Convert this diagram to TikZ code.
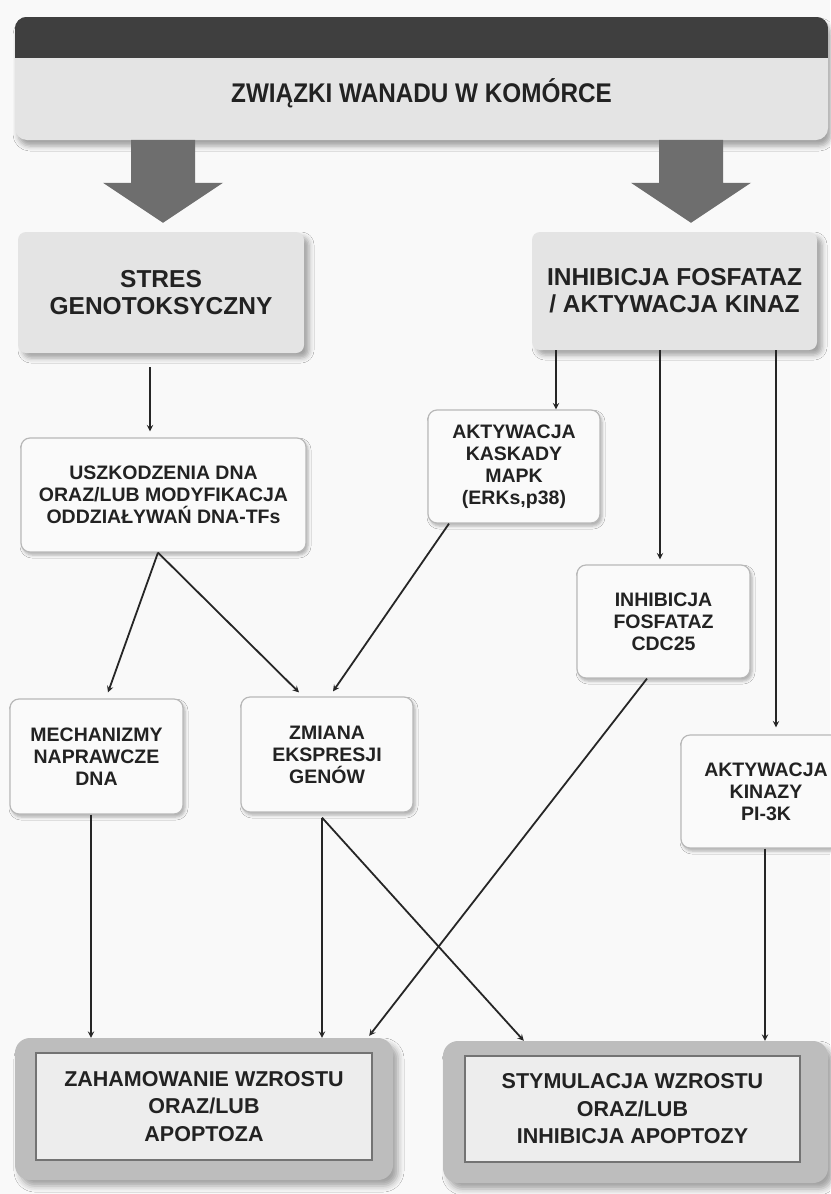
\documentclass[tikz,border=0pt]{standalone}
\usepackage{fontspec}
\setmainfont{Liberation Sans}
\newfontfamily\titlefont{Liberation Sans}[FakeStretch=0.9]
\usetikzlibrary{shapes, arrows, shadows.blur}

\definecolor{pagebg}{HTML}{F9F9F9}
\definecolor{bandgray}{HTML}{3F3F3F}
\definecolor{boxgray}{HTML}{E4E4E4}
\definecolor{arrowgray}{HTML}{6E6E6E}
\definecolor{textgray}{HTML}{222222}

\tikzstyle{header} = [rectangle, rounded corners=12pt,
inner sep=0pt,
text centered,
fill=boxgray,
text=textgray,
font=\titlefont\fontsize{27}{30}\selectfont\bfseries,
blur shadow={shadow xshift=3pt, shadow yshift=-6pt, shadow blur radius=5pt, shadow opacity=35}]
\tikzstyle{mainbox} = [rectangle, rounded corners=8pt,
inner sep=0pt,
align=center,
fill=boxgray,
text=textgray,
font=\fontsize{24.5}{27}\selectfont\bfseries,
blur shadow={shadow xshift=5pt, shadow yshift=-5pt, shadow blur radius=5pt, shadow opacity=35}]
\tikzstyle{stepbox} = [rectangle, rounded corners=9pt,
inner sep=0pt,
align=center,
draw=black!28, line width=1.2pt,
fill=white!98!black,
text=textgray,
font=\fontsize{19.5}{22}\selectfont\bfseries,
blur shadow={shadow xshift=2pt, shadow yshift=-3pt, shadow blur radius=3pt, shadow opacity=30}]
\tikzstyle{resultouter} = [rectangle, rounded corners=15pt,
inner sep=0pt,
fill=black!26,
blur shadow={shadow xshift=5pt, shadow yshift=-6pt, shadow blur radius=6pt, shadow opacity=35}]
\tikzstyle{resultinner} = [rectangle,
inner sep=0pt,
align=center,
draw=black!55, line width=1.5pt,
fill=black!7,
text=textgray,
font=\fontsize{21.5}{27.5}\selectfont\bfseries]
\tikzstyle{bigarrow} = [fill=arrowgray]
\tikzstyle{arrow} = [line width=1.8pt, draw=black!85, ->, >=stealth]

\begin{document}
\begin{tikzpicture}[x=1pt, y=-1pt]

\fill[pagebg] (0,0) rectangle (830,1194);
\useasboundingbox (0,0) rectangle (830,1194);

% header
\node (top) [header, minimum width=813pt, minimum height=123pt, text height=53pt] at (421.5,78.5) {ZWIĄZKI WANADU W KOMÓRCE};
\begin{scope}
\clip[rounded corners=12pt] (top.north west) rectangle (top.south east);
\fill[bandgray] (top.north west) rectangle ([yshift=-41pt]top.north east);
\end{scope}

% main branches
\node (stres) [mainbox, minimum width=286pt, minimum height=121pt] at (161,292.5) {STRES\\GENOTOKSYCZNY};
\node (inhib) [mainbox, minimum width=285pt, minimum height=118pt] at (674.5,291) {INHIBICJA FOSFATAZ\\/ AKTYWACJA KINAZ};

\fill[bigarrow, shift={(stres.north)}] (-30,-92) -- (34,-92) -- (34,-49) -- (62,-49) -- (2,-9) -- (-58,-49) -- (-30,-49) -- cycle;
\fill[bigarrow, shift={(inhib.north)}] (-15.5,-92) -- (48.5,-92) -- (48.5,-49) -- (76.5,-49) -- (16.5,-9) -- (-43.5,-49) -- (-15.5,-49) -- cycle;

% steps
\node (uszk) [stepbox, minimum width=285pt, minimum height=114pt] at (163.5,495) {USZKODZENIA DNA\\ORAZ/LUB MODYFIKACJA\\ODDZIAŁYWAŃ DNA-TFs};
\node (mapk) [stepbox, minimum width=172pt, minimum height=113pt] at (514,466.5) {AKTYWACJA\\KASKADY\\MAPK\\(ERKs,p38)};
\node (cdc) [stepbox, minimum width=173pt, minimum height=113pt] at (663.5,621.5) {INHIBICJA\\FOSFATAZ\\CDC25};
\node (mech) [stepbox, minimum width=173pt, minimum height=115pt] at (96.5,756.5) {MECHANIZMY\\NAPRAWCZE\\DNA};
\node (zmiana) [stepbox, minimum width=172pt, minimum height=115pt] at (327,754.5) {ZMIANA\\EKSPRESJI\\GENÓW};
\node (pi3k) [stepbox, minimum width=170pt, minimum height=113pt] at (766,791.5) {AKTYWACJA\\KINAZY\\PI-3K};

% results
\node (zaham) [resultouter, minimum width=378pt, minimum height=142pt] at (204,1109) {};
\node (zahamtxt) [resultinner, minimum width=336pt, minimum height=107pt] at (204,1106.5) {ZAHAMOWANIE WZROSTU\\ORAZ/LUB\\APOPTOZA};
\node (stym) [resultouter, minimum width=385pt, minimum height=142pt] at (635.5,1112) {};
\node (stymtxt) [resultinner, minimum width=335pt, minimum height=106pt] at (632.5,1109) {STYMULACJA WZROSTU\\ORAZ/LUB\\INHIBICJA APOPTOZY};

\draw [arrow] ([xshift=-11pt,yshift=-14pt]stres.south) -- ([xshift=-13.5pt,yshift=6pt]uszk.north);
\draw [arrow] ([xshift=42pt]mapk.north |- inhib.south) -- ([xshift=42pt]mapk.north);
\draw [arrow] ([xshift=-3.5pt]cdc.north |- inhib.south) -- ([xshift=-3.5pt,yshift=5pt]cdc.north);
\draw [arrow] ([xshift=10pt]pi3k.north |- inhib.south) -- ([xshift=10pt,yshift=7pt]pi3k.north);

\draw [arrow] ([xshift=-5.5pt]uszk.south) -- ([xshift=11.5pt,yshift=6pt]mech.north);
\draw [arrow] ([xshift=-5.5pt]uszk.south) -- ([xshift=-28pt,yshift=4pt]zmiana.north);
\draw [arrow] ([xshift=-65pt]mapk.south) -- ([xshift=6pt,yshift=5pt]zmiana.north);

\draw [arrow] ([xshift=-16.5pt]cdc.south) -- ([xshift=-24pt,yshift=2pt]zaham.north east);
\draw [arrow] ([xshift=-5.5pt]mech.south) -- ([xshift=-5.5pt]mech.south |- zaham.north);
\draw [arrow] ([xshift=-5pt,yshift=-5pt]zmiana.south) -- ([xshift=-5pt]zmiana.south |- zaham.north);
\draw [arrow] ([xshift=-5pt,yshift=-5pt]zmiana.south) -- ([xshift=81pt]stym.north west);
\draw [arrow] ([xshift=-1pt]pi3k.south) -- ([xshift=-1pt]pi3k.south |- stym.north);

\end{tikzpicture}
\end{document}
